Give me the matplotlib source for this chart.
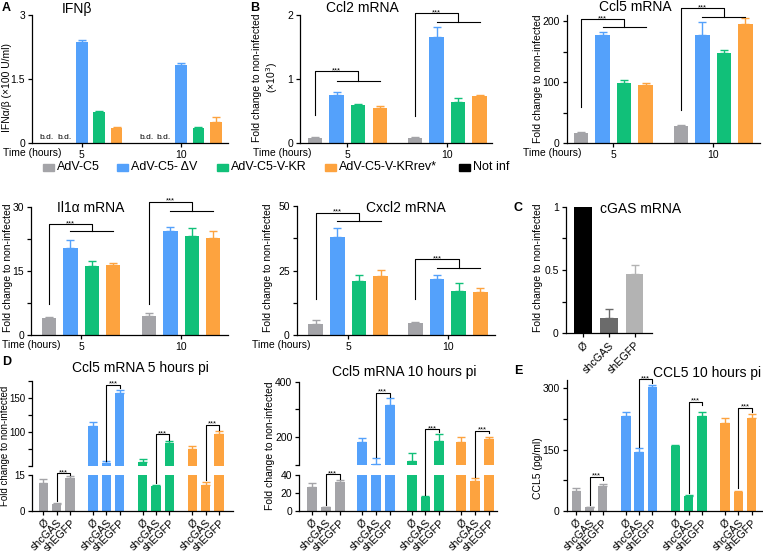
import matplotlib
matplotlib.use('Agg')
import matplotlib.pyplot as plt
from matplotlib.patches import Rectangle
from matplotlib.lines import Line2D
import numpy as np

plt.rcParams['font.family'] = ['Liberation Sans', 'DejaVu Sans']
plt.rcParams['font.size'] = 7.5
plt.rcParams['axes.linewidth'] = 0.9
plt.rcParams['xtick.major.width'] = 0.9
plt.rcParams['ytick.major.width'] = 0.9
plt.rcParams['ytick.minor.width'] = 0.9
plt.rcParams['xtick.major.size'] = 3
plt.rcParams['ytick.major.size'] = 3
plt.rcParams['ytick.minor.size'] = 3
plt.rcParams['xtick.major.pad'] = 2
plt.rcParams['ytick.major.pad'] = 2

# ---- data ----
strains = ['AdV-C5', 'AdV-C5- ΔV', 'AdV-C5-V-KR', 'AdV-C5-V-KRrev*', 'Not inf']
hours = ['5', '10']
kd = ['Ø', 'shcGAS', 'shEGFP']

# A: IFN a/b (x100 U/ml) for blue, green, orange (Not inf / AdV-C5 below detection)
ifn = [[2.38, 0.73, 0.35], [1.84, 0.36, 0.50]]
ifn_err = [[0.04, 0.03, 0.02], [0.03, 0.02, 0.12]]

# B: fold change, groups = hours, columns = AdV-C5, dV, V-KR, V-KRrev
ccl2 = [[0.09, 0.76, 0.59, 0.55], [0.09, 1.66, 0.64, 0.74]]
ccl2_err = [[0.01, 0.04, 0.03, 0.03], [0.01, 0.15, 0.06, 0.02]]
ccl5 = [[16.4, 177.5, 99.3, 96.0], [27.9, 177.0, 148.5, 194.5]]
ccl5_err = [[1.6, 4.5, 4.7, 2.4], [2.1, 21.0, 4.5, 10.5]]
il1a = [[3.9, 20.3, 16.2, 16.3], [4.5, 24.4, 23.3, 22.8]]
il1a_err = [[0.3, 2.0, 1.1, 0.5], [0.6, 1.0, 1.7, 1.6]]
cxcl2 = [[4.1, 38.2, 21.0, 22.9], [4.8, 21.8, 17.2, 16.8]]
cxcl2_err = [[1.7, 3.5, 2.3, 2.4], [0.4, 1.5, 2.9, 1.4]]

# C: cGAS mRNA
cgas = [1.0, 0.12, 0.47]
cgas_err = [0.0, 0.07, 0.07]

# D / E: rows = AdV-C5, dV, V-KR, V-KRrev ; cols = Ø, shcGAS, shEGFP
ccl5_5h = [[11.8, 2.7, 13.9], [109.7, 55.0, 158.2], [55.3, 10.4, 83.8], [75.5, 10.9, 97.0]]
ccl5_5h_err = [[1.5, 0.4, 0.5], [5.3, 3.0, 3.8], [5.7, 0.2, 3.4], [4.5, 1.1, 5.0]]
ccl5_10h = [[26.2, 3.8, 32.5], [182, 104, 315], [116, 15.7, 188], [184, 33.6, 194]]
ccl5_10h_err = [[5.2, 0.7, 1.9], [14, 20.5, 25], [26, 0.8, 24], [16, 2.7, 8]]
ccl5_prot = [[49.7, 9.0, 62.0], [233, 143.5, 304], [159, 36.7, 232], [216, 47.2, 226.6]]
ccl5_prot_err = [[5.7, 1.6, 4.0], [8.0, 9.5, 4.0], [1.6, 2.3, 11.0], [10.6, 1.7, 10.4]]

# significance brackets: (start, top, low) per hour group
ccl2_sig = [(0.44, 1.12, 0.97), (0.42, 2.03, 1.89)]
ccl5_sig = [(59, 203, 190), (55, 221, 207.5)]
il1a_sig = [(7.2, 26.0, 24.4), (7.2, 31.2, 29.1)]
cxcl2_sig = [(14, 47.5, 44.4), (14, 29.4, 25.9)]
# shcGAS vs shEGFP: (start, top, drop) per strain
d5_sig = [(4.2, 15.8, 15.0), (57, 170, 165), (11.5, 97, 89), (12.9, 110.7, 103.4)]
d10_sig = [(6.4, 41, 36), (130, 360, 346), (17.6, 230, 220), (38, 224, 214)]
e_sig = [(14.7, 84, 76), (157, 322, 312), (43, 267, 259), (55, 252.6, 243)]

GREY = '#a4a4a8'
BLUE = '#54a1fb'
GREEN = '#11c079'
ORANGE = '#fda33f'
colors = [GREY, BLUE, GREEN, ORANGE, 'black']
cgas_colors = ['black', '#6b6b6b', '#b3b3b3']

W, H = 763, 551
fig = plt.figure(figsize=(W / 100, H / 100), dpi=100)
inv = fig.transFigure.inverted()


def box(x0, y0, x1, y1):
    ax = fig.add_axes([x0 / W, 1 - y1 / H, (x1 - x0) / W, (y1 - y0) / H])
    ax.spines['top'].set_visible(False)
    ax.spines['right'].set_visible(False)
    return ax


def ftext(x, y, s, **kw):
    fig.text(x / W, 1 - y / H, s, **kw)


def bars(ax, x, vals, errs, cols, width):
    for xi, v, e, c in zip(x, vals, errs, cols):
        ax.bar(xi, v, width, color=c, zorder=2)
        if e > 0:
            ax.errorbar(xi, v, yerr=[[0], [e]], color=c, capsize=3, lw=1,
                        capthick=1, zorder=1)


def to_fig(lo, up, x, y):
    ax = lo if (up is None or y < up.get_ylim()[0]) else up
    return inv.transform(ax.transData.transform((x, y)))


def line(lo, up, pts):
    xy = np.array([to_fig(lo, up, x, y) for x, y in pts])
    fig.add_artist(Line2D(xy[:, 0], xy[:, 1], color='black', lw=0.8))


def stars(lo, up, x, y):
    fx, fy = to_fig(lo, up, x, y)
    fig.text(fx, fy - 1.0 / H, '***', ha='center', va='baseline', fontsize=5.5)


def time_panel(ax, data, err, sig, offs, xlim, ylim, ticks, minor, tlabels):
    ax.set_xlim(*xlim)
    ax.set_ylim(*ylim)
    ax.set_yticks(ticks)
    ax.set_yticklabels(tlabels)
    ax.set_yticks(minor, minor=True)
    ax.set_xticks([o + 1.5 for o in offs])
    ax.set_xticklabels(hours)
    for g, off in enumerate(offs):
        x = off + np.arange(4)
        bars(ax, x, data[g], err[g], colors[:4], 0.67)
        s0, top, low = sig[g]
        line(ax, None, [(off, s0), (off, top), (off + 2, top), (off + 2, low)])
        line(ax, None, [(off + 1, low), (off + 3, low)])
        stars(ax, None, off + 1, top)


# ---- A ----
axA = box(32, 15, 228, 143.3)
axA.set_xlim(-0.86, 10.4)
axA.set_ylim(0, 3)
for g, off in enumerate([0, 5.7]):
    x = off + np.arange(5)
    bars(axA, x[2:], ifn[g], ifn_err[g], colors[1:4], 0.67)
    for xb in x[:2]:
        axA.text(xb, 0.05, 'b.d.', ha='center', va='bottom', fontsize=6)
axA.set_yticks([0, 1.5, 3])
axA.set_yticklabels(['0', '1.5', '3'])
axA.set_xticks([2, 7.7])
axA.set_xticklabels(hours)

# ---- B ----
axB = box(300, 15, 492, 143.3)
time_panel(axB, ccl2, ccl2_err, ccl2_sig, [0, 4.63], (-0.7, 8.2), (0, 2),
           [0, 1, 2], [], ['0', '1', '2'])

axC5 = box(566.7, 15, 760, 143.3)
time_panel(axC5, ccl5, ccl5_err, ccl5_sig, [0, 4.65], (-0.67, 8.33), (0, 210),
           [0, 100, 200], [50, 150], ['0', '100', '200'])

axI = box(31, 207, 228, 335)
time_panel(axI, il1a, il1a_err, il1a_sig, [0, 4.7], (-0.85, 8.4), (0, 30),
           [0, 15, 30], [7.5, 22.5], ['0', '15', '30'])

axX = box(296.7, 206.3, 495, 335)
time_panel(axX, cxcl2, cxcl2_err, cxcl2_sig, [0, 4.6], (-0.87, 8.27), (0, 50),
           [0, 25, 50], [12.5, 37.5], ['0', '25', '50'])

# ---- C ----
axCg = box(565.7, 206.7, 651.7, 333.3)
bars(axCg, np.arange(3), cgas, cgas_err, cgas_colors, 0.68)
axCg.set_xlim(-0.67, 2.66)
axCg.set_ylim(0, 1)
axCg.set_yticks([0, 0.5, 1])
axCg.set_yticklabels(['0', '0.5', '1'])
axCg.set_yticks([0.25, 0.75], minor=True)
axCg.set_xticks(np.arange(3))
axCg.set_xticklabels(kd, rotation=45, ha='right', rotation_mode='anchor', fontsize=7.7)


# ---- D / E ----
def kd_panel(lo, up, data, err, step, xlim):
    pos = []
    for g in range(4):
        x = g * step + np.arange(3)
        pos.extend(x)
        for ax in [a for a in (lo, up) if a is not None]:
            bars(ax, x, data[g], err[g], [colors[g]] * 3, 0.71)
    for ax in [a for a in (lo, up) if a is not None]:
        ax.set_xlim(*xlim)
    return pos


def kd_sig(lo, up, sig, step):
    for g in range(4):
        s = g * step + 1
        s0, top, drop = sig[g]
        line(lo, up, [(s, s0), (s, top), (s + 1, top), (s + 1, drop)])
        stars(lo, up, s + 0.5, top)


def kd_xticks(ax, pos):
    ax.set_xticks(pos)
    ax.set_xticklabels(kd * 4, rotation=45, ha='right', rotation_mode='anchor',
                       fontsize=7.7)


# D left (broken axis)
dl_up = box(31.7, 381.3, 233, 466)
dl_lo = box(31.7, 475, 233, 510.7)
pos = kd_panel(dl_lo, dl_up, ccl5_5h, ccl5_5h_err, 3.72, (-0.87, 14.2))
dl_lo.set_ylim(0, 15)
dl_lo.set_yticks([0, 15])
dl_up.set_ylim(50, 175)
dl_up.set_yticks([100, 150])
dl_up.set_yticks([50, 75, 125, 175], minor=True)
dl_up.spines['bottom'].set_visible(False)
dl_up.set_xticks([])
for ax in (dl_up, dl_lo):
    ax.tick_params(axis='y', labelsize=7, pad=1.5)
kd_xticks(dl_lo, pos)
kd_sig(dl_lo, dl_up, d5_sig, 3.72)

# D right
dr_up = box(299.3, 381.7, 497, 465)
dr_lo = box(299.3, 475, 497, 510.7)
pos = kd_panel(dr_lo, dr_up, ccl5_10h, ccl5_10h_err, 3.58, (-0.91, 13.3))
dr_lo.set_ylim(0, 40)
dr_lo.set_yticks([0, 20, 40])
dr_up.set_ylim(100, 400)
dr_up.set_yticks([200, 400])
dr_up.set_yticks([100, 300], minor=True)
dr_up.spines['bottom'].set_visible(False)
dr_up.set_xticks([])
kd_xticks(dr_lo, pos)
kd_sig(dr_lo, dr_up, d10_sig, 3.58)

# E
axE = box(566.7, 380, 762, 511)
pos = kd_panel(axE, None, ccl5_prot, ccl5_prot_err, 3.74, (-0.72, 14.0))
axE.set_ylim(0, 320)
axE.set_yticks([0, 150, 300])
axE.set_yticks([75, 225], minor=True)
kd_xticks(axE, pos)
kd_sig(axE, None, e_sig, 3.74)

# ---- text ----
bold = dict(fontsize=9, fontweight='bold', va='center')
for s, x, y in [('A', 2, 8), ('B', 250, 8), ('C', 514, 208), ('D', 2, 362), ('E', 514, 371)]:
    ftext(x, y, s, **bold)

for s, x, y in [('IFNβ', 77, 9), ('Ccl2 mRNA', 362, 8), ('Ccl5 mRNA', 635, 7),
                ('Il1α mRNA', 91, 208), ('Cxcl2 mRNA', 406, 208),
                ('cGAS mRNA', 641, 209), ('Ccl5 mRNA 5 hours pi', 140, 368),
                ('Ccl5 mRNA 10 hours pi', 404, 372), ('CCL5 10 hours pi', 707, 373)]:
    ftext(x, y, s, fontsize=10, ha='center', va='center')

for x, y in [(3, 153), (253, 153), (523, 153), (2, 345), (252, 345)]:
    ftext(x, y, 'Time (hours)', ha='left', va='center')

ylab = 'Fold change to non-infected'
for s, x, y, fs in [('IFNα/β (×100 U/ml)', 7, 87, 7.5), (ylab + '\n(×10$^3$)', 266, 78, 7.5),
                    (ylab, 538, 79, 7.5), (ylab, 8, 268, 7.5), (ylab, 268, 268, 7.5),
                    (ylab, 538, 268, 7.5), (ylab, 5, 446, 7), (ylab, 270, 446, 7.5),
                    ('CCL5 (pg/ml)', 538, 468, 7.5)]:
    ftext(x, y, s, fontsize=fs, rotation=90, ha='center', va='center',
          multialignment='center')

# legend
leg_x = [43, 117, 217, 325, 459]
for s, c, x in zip(strains, colors, leg_x):
    fig.add_artist(Rectangle((x / W, 1 - 170.5 / H), 11 / W, 7 / H, color=c,
                             transform=fig.transFigure))
    ftext(x + 14, 167, s, fontsize=9, ha='left', va='center')

fig.savefig('out.png', dpi=100)
